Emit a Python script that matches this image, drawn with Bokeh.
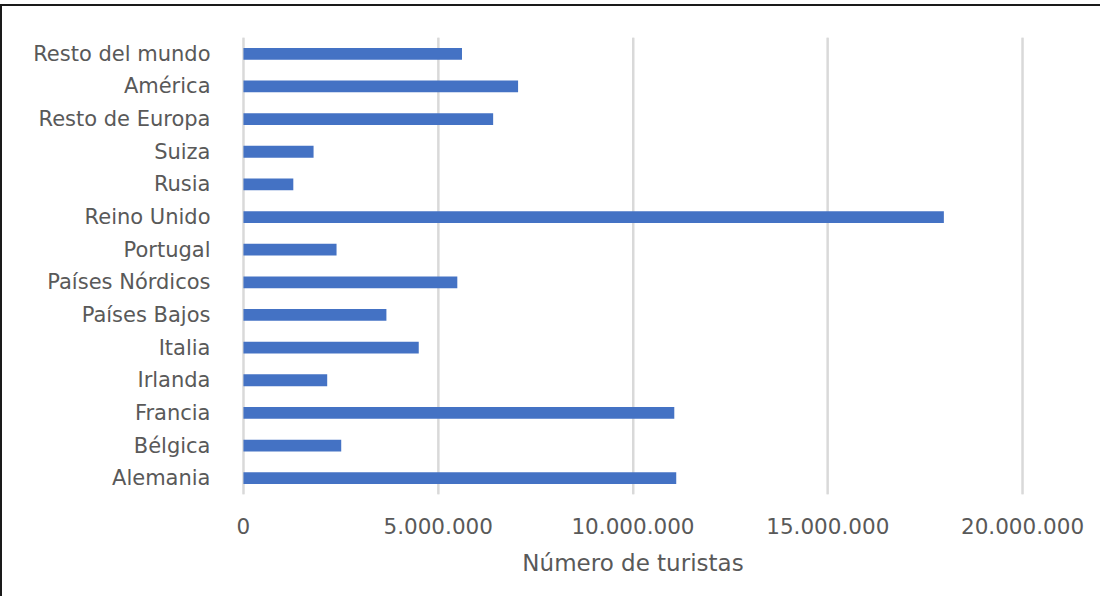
from bokeh.plotting import figure
from bokeh.models import FactorRange, Range1d, CustomJSTickFormatter, FixedTicker, Span
from bokeh.embed import file_html
from bokeh.resources import INLINE

categories = ["Alemania", "Bélgica", "Francia", "Irlanda", "Italia", "Países Bajos",
              "Países Nórdicos", "Portugal", "Reino Unido", "Rusia", "Suiza",
              "Resto de Europa", "América", "Resto del mundo"]
turistas = [11110000, 2510000, 11060000, 2150000, 4500000, 3670000,
            5490000, 2390000, 17980000, 1280000, 1800000,
            6410000, 7050000, 5610000]
x_ticks = [0, 5000000, 10000000, 15000000, 20000000]
x_title = "Número de turistas"

FONT = "DejaVu Sans"
TXT = "#595959"
GRID = "#d9d9d9"

p = figure(width=1100, height=592, output_backend="svg", toolbar_location=None,
           y_range=FactorRange(factors=categories, range_padding=0),
           x_range=Range1d(-50000, 20050000),
           min_border_left=239, min_border_right=78, min_border_top=31, min_border_bottom=104)
p.styles = {"border-top": "2px solid #1a1a1a", "border-left": "2px solid #1a1a1a",
            "margin-top": "4px"}

for t in x_ticks:
    p.add_layout(Span(location=t, dimension="height", line_color=GRID, line_width=2, level="underlay"))

p.hbar(y=categories, right=turistas, left=0, height=0.36, color="#4472C4", line_color=None)

p.outline_line_color = None
p.background_fill_color = "white"
p.border_fill_color = "white"

p.xaxis.ticker = FixedTicker(ticks=x_ticks)
p.xgrid.ticker = FixedTicker(ticks=x_ticks)
p.xaxis.formatter = CustomJSTickFormatter(code="""
return tick.toFixed(0).replace(/\\B(?=(\\d{3})+(?!\\d))/g, '.');
""")
p.xaxis.axis_label = x_title
p.xaxis.axis_line_color = None
p.xaxis.major_tick_line_color = None
p.xaxis.minor_tick_line_color = None
p.xaxis.major_label_standoff = 17
p.xaxis.major_label_text_font = FONT
p.xaxis.major_label_text_font_size = "21.5px"
p.xaxis.major_label_text_color = TXT
p.xaxis.axis_label_text_font = FONT
p.xaxis.axis_label_text_font_size = "23px"
p.xaxis.axis_label_text_font_style = "normal"
p.xaxis.axis_label_text_color = TXT
p.xaxis.axis_label_standoff = 13

p.yaxis.axis_line_color = None
p.yaxis.major_tick_line_color = None
p.yaxis.minor_tick_line_color = None
p.yaxis.major_label_standoff = 25
p.yaxis.major_label_text_font = FONT
p.yaxis.major_label_text_font_size = "21px"
p.yaxis.major_label_text_color = TXT

p.xgrid.grid_line_color = GRID
p.xgrid.grid_line_width = 2
p.ygrid.grid_line_color = None

open("out.html", "w").write(file_html(p, INLINE))
